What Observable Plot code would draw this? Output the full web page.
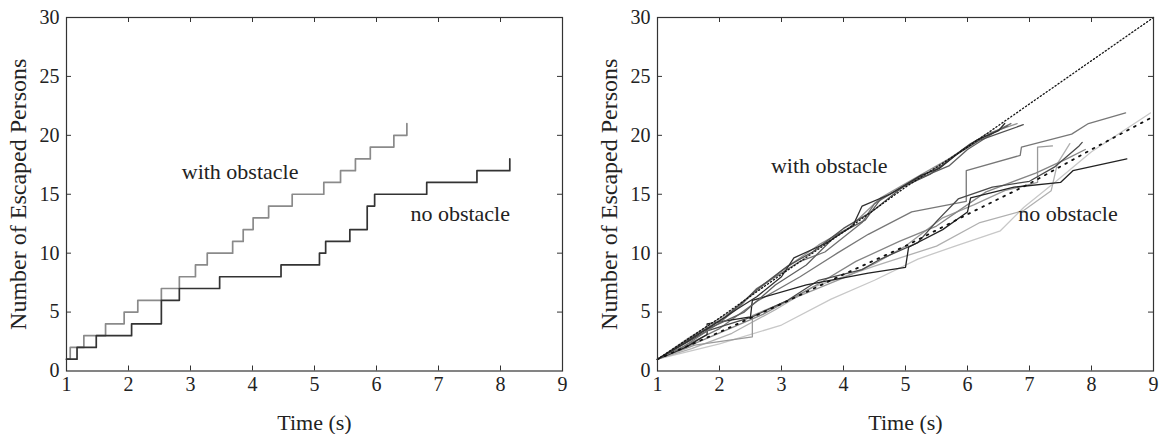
<!DOCTYPE html>
<html><head><meta charset="utf-8">
<script src="https://cdn.jsdelivr.net/npm/d3@7"></script>
<script src="https://cdn.jsdelivr.net/npm/@observablehq/plot@0.6"></script>
<style>
body{margin:0;background:#fff;}
#wrap{display:flex;width:1164px;height:434px;background:#fff;}
</style></head><body><div id="wrap"></div>
<script>
// ---- axes ----
const xTicks = [1,2,3,4,5,6,7,8,9];
const yTicks = [0,5,10,15,20,25,30];

// ---- left panel: single run (step functions) ----
const withObstacleTime  = [1.00,1.06,1.28,1.63,1.93,2.15,2.53,2.82,3.08,3.27,3.68,3.85,4.01,4.26,4.64,5.15,5.42,5.66,5.90,6.28,6.49];
const withObstacleCount = [1,2,3,4,5,6,7,8,9,10,11,12,13,14,15,16,17,18,19,20,21];
const noObstacleTime    = [1.00,1.17,1.48,2.05,2.53,2.82,3.47,4.46,5.08,5.18,5.57,5.85,5.97,6.81,7.62,8.15];
const noObstacleCount   = [1,2,3,4,6,7,8,9,10,11,12,14,15,16,17,18];

// ---- right panel: several runs [time, count] ----
const withRun1 = [[1,1],[1.45,2.4],[1.9,3.9],[2.3,5.3],[2.6,6.3],[3.0,8.0],[3.2,9.6],[3.7,10.8],[4.15,12.3],[4.3,14.0],[4.75,15.0],[5.25,16.6],[5.55,17.2],[5.9,18.7],[6.15,19.6],[6.5,20.4],[6.6,21.0]];
const withRun2 = [[1,1],[1.6,3.0],[2.1,4.6],[2.6,6.9],[3.1,8.9],[3.5,10.1],[4.0,12.1],[4.45,13.5],[4.95,15.6],[5.4,16.7],[5.8,18.3],[6.2,19.6],[6.9,20.9]];
const withRun3 = [[1,1],[1.4,2.0],[2.0,4.1],[2.35,5.6],[2.6,7.0],[3.3,9.3],[3.7,10.1],[4.3,12.6],[4.5,14.2],[5.1,16.1],[5.6,17.5],[6.05,19.3],[6.7,21.0]];
const withRun4 = [[1,1],[1.5,2.8],[2.2,5.1],[3.0,8.5],[3.6,10.7],[4.1,12.2],[4.6,14.7],[5.0,15.9],[5.7,18.0],[6.3,20.1],[6.8,21.0]];
const withRun5 = [[1,1],[1.7,3.3],[2.4,5.0],[2.9,7.3],[3.4,9.0],[3.9,11.6],[4.35,12.8],[4.6,14.6],[5.2,16.3],[5.7,17.4],[6.0,18.8],[6.45,20.3],[6.65,20.8]];
const withMean = [[1,1],[2,4.5],[3,8.2],[4,11.8],[5,15.6],[6,19.0],[9,30]];

const noRun1 = [[1,1],[1.45,2.0],[1.8,3.1],[1.8,4.0],[2.5,4.6],[2.53,6.0],[3.4,7.3],[4.4,8.3],[5.0,8.8],[5.05,10.5],[5.6,12.0],[6.0,13.5],[6.05,14.7],[6.75,15.6],[7.5,16.0],[7.7,17.0],[8.57,18.0]];
const noRun2 = [[1,1],[1.8,3.4],[2.53,4.6],[3.1,6.0],[3.6,7.7],[4.3,8.6],[4.6,9.5],[5.2,10.9],[5.5,12.7],[5.85,14.6],[6.4,15.6],[7.0,16.1],[7.4,17.3],[7.8,19.1],[7.85,19.4]];
const noRun3 = [[1,1],[2.0,3.6],[2.6,5.9],[3.3,8.0],[3.9,10.0],[4.4,11.6],[5.1,13.5],[5.98,14.4],[5.98,17.0],[6.85,18.3],[6.87,19.0],[7.68,20.1],[7.95,21.0],[8.55,21.9]];
const noRun4 = [[1,1],[1.6,2.2],[2.53,2.9],[2.53,4.7],[3.3,6.4],[4.0,7.9],[4.5,9.1],[5.0,10.6],[5.6,13.0],[6.1,14.1],[6.6,15.3],[7.13,16.0],[7.13,19.0],[7.37,19.1]];
const noRun5 = [[1,1],[2.0,2.3],[3.0,3.9],[3.8,6.1],[4.5,7.7],[5.2,9.5],[5.8,10.6],[6.53,11.9],[6.91,13.9],[7.43,16.1],[8.0,18.6],[8.95,21.9]];
const noRun6 = [[1,1],[1.55,1.9],[2.2,3.2],[2.9,5.2],[3.5,7.1],[4.5,8.9],[5.5,10.6],[6.2,12.6],[6.9,13.6],[7.35,15.3],[7.45,17.6],[7.65,19.3]];
const noRun7 = [[1,1],[1.9,3.0],[2.7,4.8],[3.6,7.4],[4.2,9.3],[4.9,11.0],[5.5,12.3],[6.3,15.2],[7.1,16.8],[7.6,18.0],[7.9,18.8]];
const noMean = [[1,1],[2,3.3],[3,5.7],[4,8.2],[5,10.6],[6,13.3],[7,15.9],[8,18.8],[9,21.6]];

const labelsLeft  = [{t:3.8, n:16.9, text:"with obstacle"}, {t:7.35, n:13.3, text:"no obstacle"}];
const labelsRight = [{t:3.77, n:17.4, text:"with obstacle"}, {t:7.62, n:13.3, text:"no obstacle"}];

// ---- layout ----
const W = 582, H = 434, MT = 17, MB = 63.5;
const FONT = "'Liberation Serif', 'Times New Roman', serif";

function panel(marginLeft, marginRight, dataMarks, labels) {
  const innerW = W - marginLeft - marginRight;
  const innerH = H - MT - MB;
  const inner = xTicks.slice(1, -1), innerY = yTicks.slice(1, -1);
  return Plot.plot({
    width: W, height: H, marginLeft, marginRight, marginTop: MT, marginBottom: MB,
    x: {domain: [1, 9]}, y: {domain: [0, 30]},
    style: {fontFamily: FONT, color: "#222", background: "#fff", overflow: "visible"},
    marks: [
      ...dataMarks,
      Plot.text(labels, {x: "t", y: "n", text: "text", fontSize: 22, fill: "#222"}),
      Plot.frame({stroke: "#333", strokeWidth: 1.2}),
      Plot.ruleX(inner, {x: d => d, insetTop: innerH - 5, stroke: "#333"}),
      Plot.ruleX(inner, {x: d => d, insetBottom: innerH - 5, stroke: "#333"}),
      Plot.ruleY(innerY, {y: d => d, insetRight: innerW - 5, stroke: "#333"}),
      Plot.ruleY(innerY, {y: d => d, insetLeft: innerW - 5, stroke: "#333"}),
      Plot.axisX(xTicks, {tickSize: 0, tickPadding: 6, fontSize: 20, label: null}),
      Plot.axisY(yTicks, {tickSize: 0, tickPadding: 7, fontSize: 20, label: null}),
      Plot.text(["Time (s)"], {text: d => d, frameAnchor: "bottom", lineAnchor: "middle", dy: 52, fontSize: 22, fill: "#222"}),
      Plot.text(["Number of Escaped Persons"], {text: d => d, frameAnchor: "left", textAnchor: "middle", lineAnchor: "middle", dx: -48, rotate: -90, fontSize: 24, fill: "#222"})
    ]
  });
}

const withLeft = withObstacleTime.map((t, i) => ({t, n: withObstacleCount[i]}));
const noLeft = noObstacleTime.map((t, i) => ({t, n: noObstacleCount[i]}));

const left = panel(66, 20, [
  Plot.line(withLeft, {x: "t", y: "n", curve: "step-after", stroke: "#8a8a8a", strokeWidth: 1.7}),
  Plot.line(noLeft, {x: "t", y: "n", curve: "step-after", stroke: "#333", strokeWidth: 1.7})
], labelsLeft);

const runStyles = [
  [noRun5, "#c8c8c8"], [noRun6, "#b0b0b0"], [noRun4, "#9a9a9a"], [noRun7, "#858585"],
  [noRun3, "#777"], [noRun2, "#4a4a4a"], [noRun1, "#222"],
  [withRun4, "#939393"], [withRun3, "#707070"], [withRun5, "#5f5f5f"], [withRun2, "#505050"], [withRun1, "#2e2e2e"]
];
const right = panel(75, 11, [
  ...runStyles.map(([run, c]) => Plot.line(run, {x: d => d[0], y: d => d[1], stroke: c, strokeWidth: 1.3})),
  Plot.line(withMean, {x: d => d[0], y: d => d[1], stroke: "#111", strokeWidth: 1.3, strokeDasharray: "1.2,2.4"}),
  Plot.line(noMean, {x: d => d[0], y: d => d[1], stroke: "#111", strokeWidth: 1.8, strokeDasharray: "1.8,6"})
], labelsRight);

document.getElementById("wrap").append(left, right);
</script>
</body></html>
